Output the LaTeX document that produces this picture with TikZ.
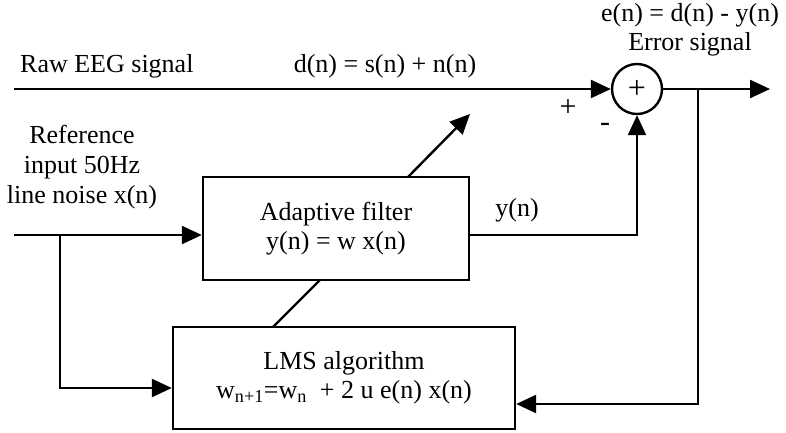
\documentclass[tikz,border=0pt]{standalone}
\usepackage{fontspec}
\setmainfont{Liberation Serif}
\usetikzlibrary{arrows.meta}
\tikzset{
  txt/.style={font=\fontsize{26}{30}\selectfont, inner sep=0pt},
  blk/.style={draw, line width=2.4pt, rectangle, align=center, font=\fontsize{26}{29}\selectfont},
  wire/.style={line width=2.4pt},
  arr/.style={wire, -{Triangle[length=20pt,width=18pt]}},
}
\begin{document}
\begin{tikzpicture}[x=1pt,y=-1pt]
\useasboundingbox (0,0) rectangle (786,432);
% blocks
\node[blk, minimum width=266pt, minimum height=103pt] (filt) at (336,228.5) {Adaptive filter\\[0pt]y(n) = w x(n)};
\node[blk, minimum width=342pt, minimum height=102pt] (lms) at (344,378) {LMS algorithm\\w\textsubscript{n+1}=w\textsubscript{n} \ + 2 u e(n) x(n)};
\node[draw, circle, line width=2.4pt, minimum size=50pt, inner sep=0pt, font=\fontsize{32}{32}\selectfont] (sum) at (637,89) {+};
% coordinates
\coordinate (rawstart) at (14,89);
\coordinate (refstart) at (14,235);
\coordinate (filtin) at (filt.west |- refstart);
\coordinate (filtout) at (filt.east |- refstart);
\coordinate (b1) at (60,235);
\coordinate (b1d) at (60,388);
\coordinate (lmsin) at (lms.west |- b1d);
\coordinate (jn) at (698,89);
\coordinate (outend) at (770,89);
\coordinate (jnd) at (698,404);
\coordinate (lmsfb) at (lms.east |- jnd);
\coordinate (ycorner) at (sum.south |- refstart);
\coordinate (d1) at (273,327);
\coordinate (d2) at (320,280);
\coordinate (d3) at (408,177);
\coordinate (d4) at (470,114);
% connectors
\draw[arr] (rawstart) -- (sum.west);
\draw[arr] (sum.east) -- (outend);
\draw[arr] (refstart) -- (filtin);
\draw[arr] (b1) -- (b1d) -- (lmsin);
\draw[arr] (jn) -- (jnd) -- (lmsfb);
\draw[arr] (filtout) -- (ycorner) -- (sum.south);
\draw[wire] (d1) -- (d2);
\draw[arr] (d3) -- (d4);
% labels
\node[txt, anchor=west] (l1) at (20,66) {Raw EEG signal};
\node[txt] (l2) at (385,66) {d(n) = s(n) + n(n)};
\node[txt] (l3) at (690,15) {e(n) = d(n) - y(n)};
\node[txt] (l4) at (690,44) {Error signal};
\node[txt, font=\fontsize{30}{30}\selectfont] (l5) at (568,108) {+};
\node[txt, font=\fontsize{30}{30}\selectfont] (l6) at (605,127) {-};
\node[txt] (l7) at (517,210) {y(n)};
\node[txt, align=center] (l8) at (82,167) {Reference\\input 50Hz\\line noise x(n)};
\end{tikzpicture}
\end{document}
